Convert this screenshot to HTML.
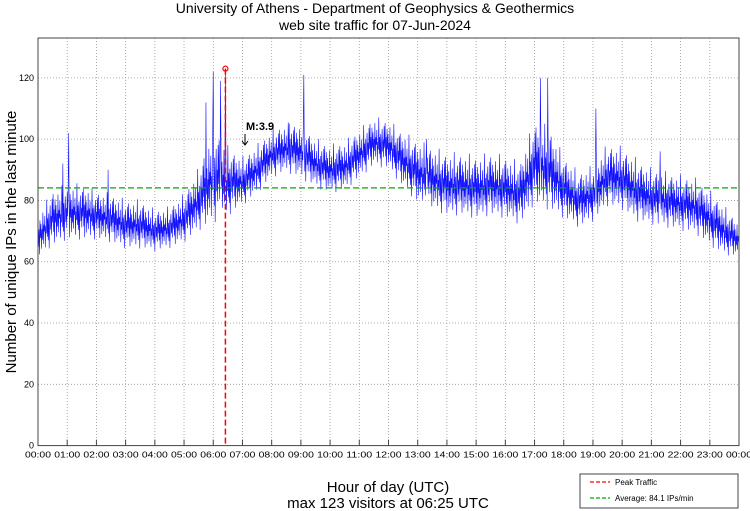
<!DOCTYPE html>
<html><head><meta charset="utf-8"><style>
body{margin:0;background:#fff;width:750px;height:511px;overflow:hidden}
svg{display:block;font-family:"Liberation Sans",sans-serif}
</style></head><body>
<svg id="chart" width="750" height="511">
<text x="375" y="13" text-anchor="middle" font-size="14">University of Athens - Department of Geophysics &amp; Geothermics</text>
<text x="375" y="30" text-anchor="middle" font-size="14">web site traffic for 07-Jun-2024</text>
<text transform="translate(16,242) rotate(-90)" text-anchor="middle" font-size="15">Number of unique IPs in the last minute</text>
<text x="388" y="492" text-anchor="middle" font-size="15">Hour of day (UTC)</text>
<text x="388" y="508" text-anchor="middle" font-size="15">max 123 visitors at 06:25 UTC</text>
<g id="grid"></g><g id="series"></g><g id="axes"></g>
<g>
<rect x="580" y="474" width="158" height="34" fill="#fff" stroke="#444" stroke-width="1"/>
<line x1="590" y1="482" x2="610" y2="482" stroke="#f00" stroke-dasharray="4,2" stroke-width="1.3"/>
<text x="615" y="485" font-size="8">Peak Traffic</text>
<line x1="590" y1="498" x2="610" y2="498" stroke="#0a0" stroke-dasharray="4,2" stroke-width="1.3"/>
<text x="615" y="501" font-size="8">Average: 84.1 IPs/min</text>
</g>
</svg>
<script>
const hours=[0,0.5,1,1.5,2,2.5,3,3.5,4,4.5,5,5.5,6,6.5,7,7.5,8,8.5,9,9.5,10,10.5,11,11.5,12,12.5,13,13.5,14,14.5,15,15.5,16,16.5,17,17.5,18,18.5,19,19.5,20,20.5,21,21.5,22,22.5,23,23.5,24];
const meanVals=[68,74,76,76,75,74,72,72,70,71,74,80,88,86,86,90,95,97,96,92,90,91,95,99,98,93,89,87,85,85,84,85,84,82,92,90,84,80,82,88,87,83,81,80,79,78,74,70,67];
const spreadVals=[6,8,8,8,7,7,7,7,6,6,7,9,14,10,7,7,7,7,8,7,7,7,7,7,7,8,9,9,9,9,9,9,9,9,12,12,9,8,8,9,9,9,8,8,8,8,8,7,5];
const spikeTimes=[1.05,5.75,6.0,6.25,9.1,8.6,17.2,17.45,19.1,2.4,0.85,13.3,21.3];
const spikeVals=[102,112,122,119,121,105,120,120,110,90,92,100,96];
const peakTime=6+25/60, peakVal=123, avgVal=84.1, yMax=133;
const yTicks=[0,20,40,60,80,100,120];
const xTickLabels=["00:00","01:00","02:00","03:00","04:00","05:00","06:00","07:00","08:00","09:00","10:00","11:00","12:00","13:00","14:00","15:00","16:00","17:00","18:00","19:00","20:00","21:00","22:00","23:00","00:00"];
const L=38,R=739,T=38,B=445.6;
const X=h=>L+(R-L)*h/24, Y=v=>B-(B-T)*v/yMax;
const NS="http://www.w3.org/2000/svg";
function mk(tag,attrs,parent){const e=document.createElementNS(NS,tag);for(const k in attrs)e.setAttribute(k,attrs[k]);parent.appendChild(e);return e;}
const grid=document.getElementById('grid'),axes=document.getElementById('axes'),ser=document.getElementById('series');
yTicks.forEach(v=>{
 if(v>0){const g=mk('line',{x1:L,x2:R,y1:Y(v),y2:Y(v),stroke:'#999','stroke-dasharray':'1,2','stroke-width':0.8},grid);
 
 }
 const t=mk('text',{x:L-4,y:Y(v)+3,'text-anchor':'end','font-size':9},axes);t.textContent=v;
 
 
});
xTickLabels.forEach((s,i)=>{
 if(i>0&&i<24){const g=mk('line',{x1:X(i),x2:X(i),y1:T,y2:B,stroke:'#999','stroke-dasharray':'1,2','stroke-width':0.8},grid);
 
 }
 mk('line',{x1:X(i),x2:X(i),y1:B,y2:B-6,stroke:'#444'},axes);
 const t=mk('text',{x:X(i),y:B+12,'text-anchor':'middle','font-size':8,'textLength':26,'lengthAdjust':'spacingAndGlyphs'},axes);t.textContent=s;
 
 
});
const frame=mk('rect',{x:L,y:T,width:R-L,height:B-T,fill:'none',stroke:'#444','stroke-width':1},axes);


const pat=[1,-0.55,0.35,-1,0.75,-0.2,0.5,-0.8,0.15,-0.4,0.9,-0.65,0.25,-0.1,0.6,-0.9,0.05,-0.3,1.2,-0.5,0.3,-0.7,0.45,-1.1,0.1,0.7,-0.35,0.2,-0.6,0.85,-0.15];
function interp(arr,h){const i=Math.min(hours.length-2,Math.floor(h*2));const f=h*2-i;return arr[i]*(1-f)+arr[i+1]*f;}
let d='';
for(let m=0;m<=1440;m++){
 const h=m/60;let v=interp(meanVals,h)+interp(spreadVals,h)*pat[m%pat.length];
 spikeTimes.forEach((st,k)=>{if(Math.abs(h-st)<0.5/60)v=spikeVals[k];});
 if(Math.abs(h-peakTime)<0.5/60)v=peakVal;
 d+=(m?'L':'M')+X(h).toFixed(2)+','+Y(v).toFixed(2);
}
const line=mk('path',{d:d,fill:'none',stroke:'#1010ff','stroke-width':0.6},ser);


const avg=mk('line',{x1:L,x2:R,y1:Y(avgVal),y2:Y(avgVal),stroke:'#0a0','stroke-dasharray':'6,3','stroke-width':1.3},ser);


const pk=mk('line',{x1:X(peakTime),x2:X(peakTime),y1:Y(peakVal),y2:B,stroke:'#f00','stroke-dasharray':'6,3','stroke-width':1.5},ser);


const pc=mk('circle',{cx:X(peakTime),cy:Y(peakVal),r:2.5,fill:'none',stroke:'#f00','stroke-width':1.2},ser);


const an=mk('text',{x:246,y:130,'font-size':11,'font-weight':'bold'},ser);an.textContent='M:3.9';


const ar=mk('path',{d:'M245,134 L245,145 M242,141 L245,145 L248,141',fill:'none',stroke:'#000','stroke-width':1},ser);


</script>
</body></html>
